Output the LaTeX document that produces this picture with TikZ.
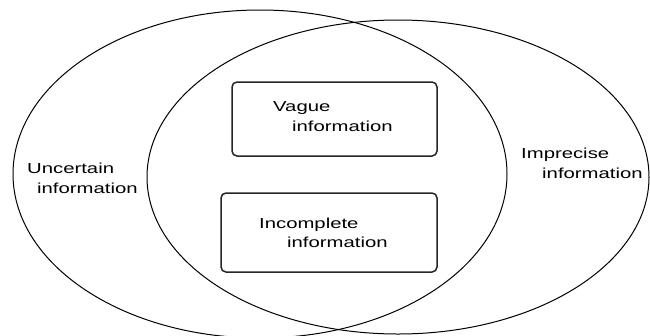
\documentclass[tikz,border=0pt]{standalone}
\usepackage{fontspec}
\setmainfont[FakeStretch=1.4]{Liberation Sans}
\usetikzlibrary{shapes.geometric}
\begin{document}
\begin{tikzpicture}[x=1pt,y=-1pt,
  setell/.style={draw=black, line width=1pt, ellipse, inner sep=0pt, outer sep=0pt},
  infobox/.style={draw=black!85, line width=1.5pt, rounded corners=5pt, rectangle, inner sep=0pt, outer sep=0pt},
  lbl/.style={anchor=base west, inner sep=0pt, font=\fontsize{14.5}{18}\selectfont, text=black}]
\useasboundingbox (0,0) rectangle (650,335);
\clip (0,0) rectangle (650,335);
\fill[white] (0,0) rectangle (650,335);
% sets
\node[setell, minimum width=494pt, minimum height=328pt] (uncertain) at (260,174) {};
\node[setell, minimum width=502pt, minimum height=314pt] (imprecise) at (398,177) {};
% boxes
\node[infobox, minimum width=205pt, minimum height=74pt] (vaguebox) at (334.5,119) {};
\node[infobox, minimum width=216pt, minimum height=79pt] (incbox) at (329,232.5) {};
% labels
\node[lbl] (unc1) at (27,173) {Uncertain};
\node[lbl] (unc2) at (37,193) {information};
\node[lbl] (imp1) at (521,158) {Imprecise};
\node[lbl] (imp2) at (542,178) {information};
\node[lbl] (vag1) at (273,111) {Vague};
\node[lbl] (vag2) at (292,131) {information};
\node[lbl] (inc1) at (259,228) {Incomplete};
\node[lbl] (inc2) at (287,247) {information};
\end{tikzpicture}
\end{document}
